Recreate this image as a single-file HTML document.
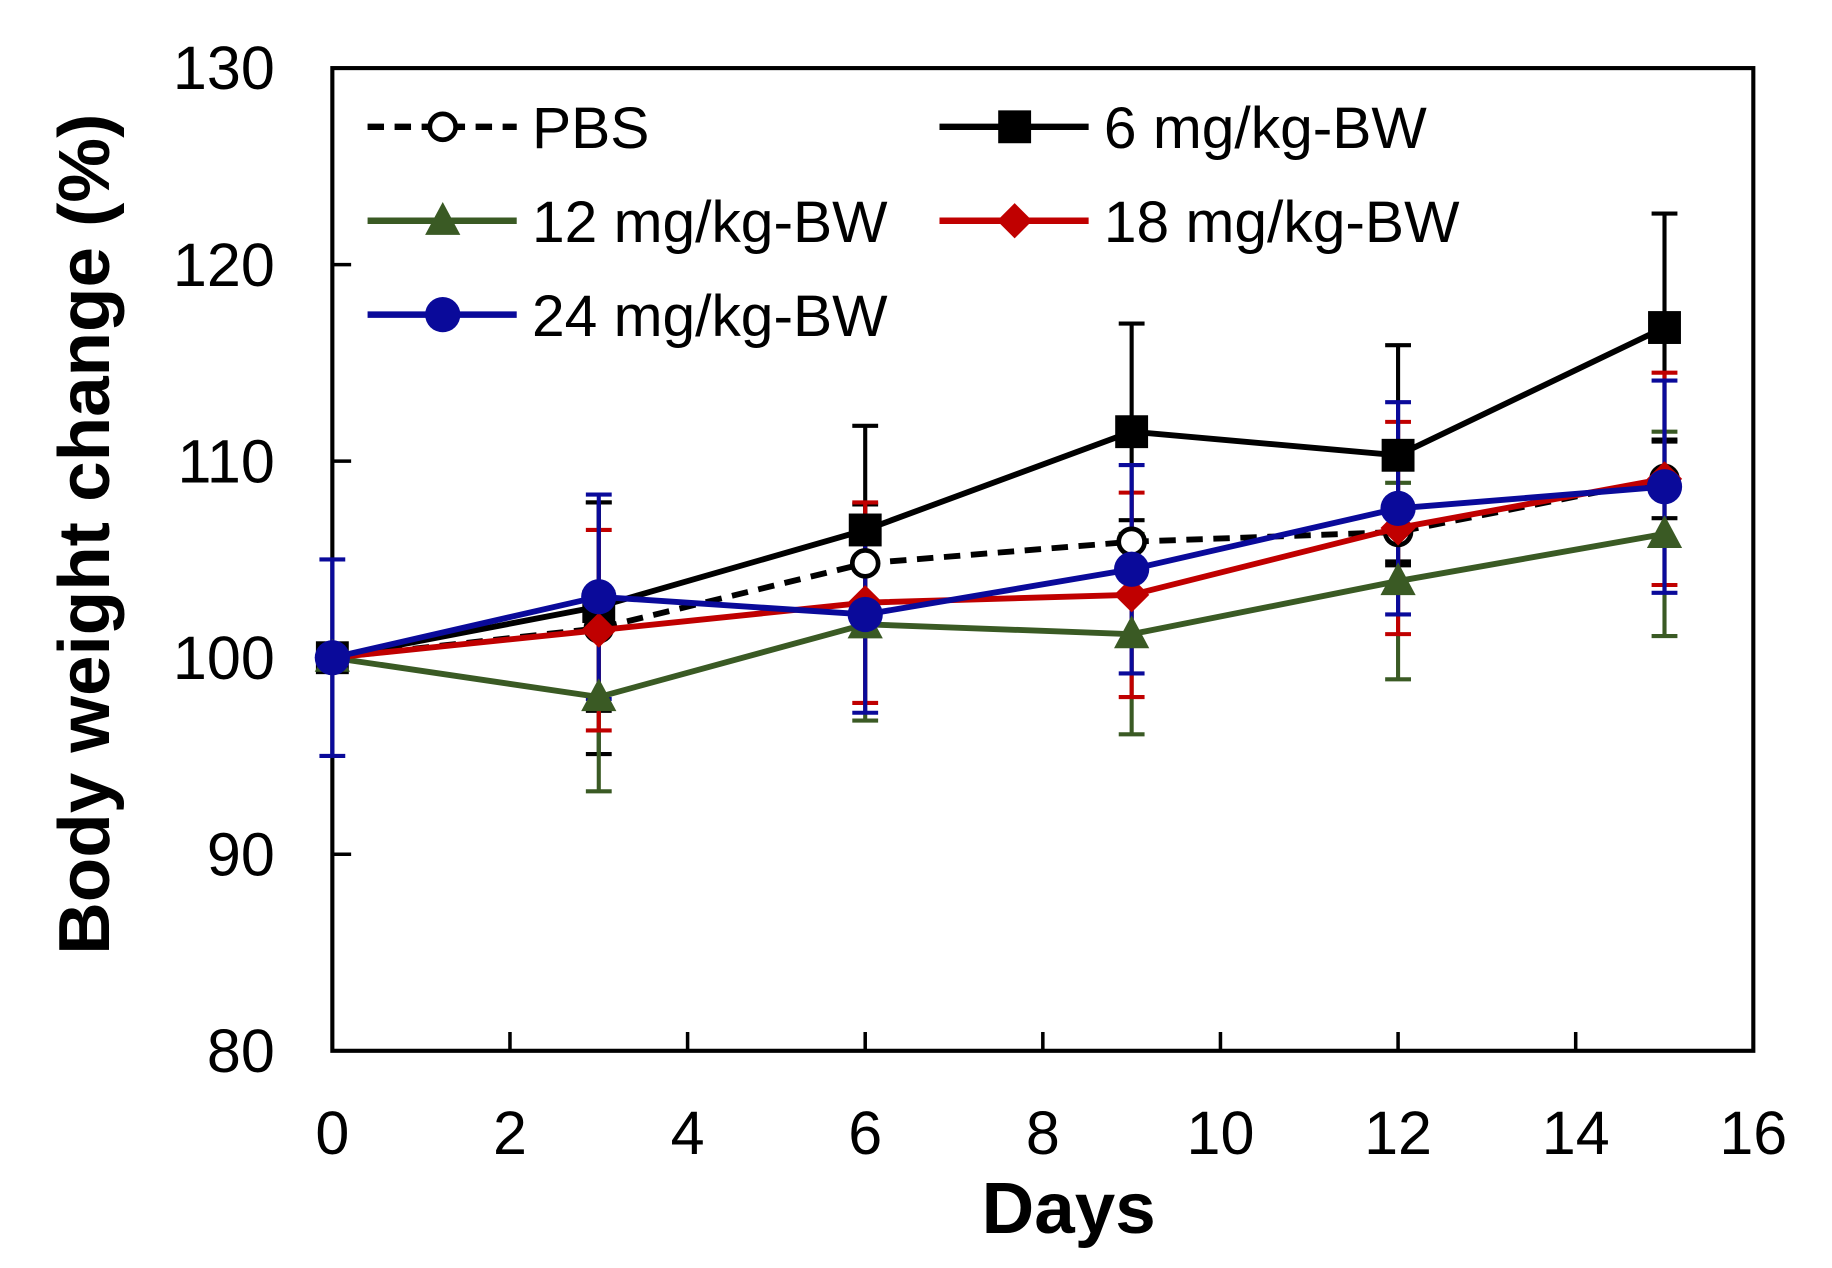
<!DOCTYPE html>
<html><head><meta charset="utf-8"><style>
html,body{margin:0;padding:0;background:#fff}
svg{display:block}
text{font-family:"Liberation Sans",Arial,sans-serif}
</style></head><body>
<svg id="chart" width="1832" height="1268" viewBox="0 0 1560 1080" preserveAspectRatio="none" xmlns="http://www.w3.org/2000/svg"></svg>
<script>
const days=[0,3,6,9,12,15];
const pbsVals=[100,101.5,104.8,105.9,106.4,109.1];
const pbsErr=[0,6.4,3,1.1,1.5,2];
const mg6Vals=[100,102.6,106.5,111.5,110.3,116.8];
const mg6Err=[0,5.3,5.3,5.5,5.6,5.8];
const mg12Vals=[100,98,101.7,101.2,103.9,106.3];
const mg12Err=[0,4.8,4.9,5.1,5,5.2];
const mg18Vals=[100,101.4,102.8,103.2,106.6,109.1];
const mg18Err=[0,5.1,5.1,5.2,5.4,5.4];
const mg24Vals=[100,103.1,102.2,104.5,107.6,108.7];
const mg24Err=[5,5.2,5,5.3,5.4,5.4];
const xTicks=[0,2,4,6,8,10,12,14,16];
const yTicks=[80,90,100,110,120,130];

const L=283,R=1493,T=58,B=895;
const xs=d=>L+(d-0)/16*(R-L);
const ys=v=>B-(v-80)/50*(B-T);
const NS="http://www.w3.org/2000/svg";
const svg=document.getElementById('chart');
function mk(tag,attrs,parent){const e=document.createElementNS(NS,tag);for(const k in attrs)e.setAttribute(k,attrs[k]);(parent||svg).appendChild(e);return e;}

const frame=mk('rect',{x:L,y:T,width:R-L,height:B-T,fill:'none',stroke:'#000','stroke-width':3.5});



xTicks.forEach(t=>{
  const x=xs(t);
  if(t>0&&t<16){const tk=mk('line',{x1:x,x2:x,y1:B,y2:B-16,stroke:'#000','stroke-width':3});
  
  }
  const lb=mk('text',{x:x,y:B+88,'text-anchor':'middle','font-size':52});
  lb.textContent=t;
  
  
});
yTicks.forEach(t=>{
  const y=ys(t);
  if(t>80&&t<130){const tk=mk('line',{x1:L,x2:L+16,y1:y,y2:y,stroke:'#000','stroke-width':3});
  
  }
  const lb=mk('text',{x:234,y:y+18,'text-anchor':'end','font-size':52});
  lb.textContent=t;
  
  
});
const xt=mk('text',{x:910,y:1050,'text-anchor':'middle','font-size':62,'font-weight':'bold'});
xt.textContent='Days';


const yt=mk('text',{x:0,y:0,'text-anchor':'middle','font-size':62,'font-weight':'bold',transform:'translate(93,455) rotate(-90)'});
yt.textContent='Body weight change (%)';



function marker(g,shape,x,y,color,name){
  let m;
  if(shape==='circleOpen')m=mk('circle',{cx:x,cy:y,r:11,fill:'#fff',stroke:color,'stroke-width':4},g);
  else if(shape==='square')m=mk('rect',{x:x-14,y:y-14,width:28,height:28,fill:color},g);
  else if(shape==='triangle')m=mk('polygon',{points:`${x},${y-16} ${x+15},${y+12} ${x-15},${y+12}`,fill:color},g);
  else if(shape==='diamond')m=mk('polygon',{points:`${x},${y-15} ${x+15},${y} ${x},${y+15} ${x-15},${y}`,fill:color},g);
  else m=mk('circle',{cx:x,cy:y,r:15,fill:color},g);
  
  
}
const series=[
 {name:'pbs',label:'PBS',vals:pbsVals,err:pbsErr,color:'#000',shape:'circleOpen',dash:'14,9',lx:313,ly:108},
 {name:'6mg',label:'6 mg/kg-BW',vals:mg6Vals,err:mg6Err,color:'#000',shape:'square',dash:'',lx:800,ly:108},
 {name:'12mg',label:'12 mg/kg-BW',vals:mg12Vals,err:mg12Err,color:'#3a5a24',shape:'triangle',dash:'',lx:313,ly:188},
 {name:'18mg',label:'18 mg/kg-BW',vals:mg18Vals,err:mg18Err,color:'#c00000',shape:'diamond',dash:'',lx:800,ly:188},
 {name:'24mg',label:'24 mg/kg-BW',vals:mg24Vals,err:mg24Err,color:'#0a0a9a',shape:'circle',dash:'',lx:313,ly:268}
];
series.forEach(s=>{
  const g=mk('g',{});
  
  
  days.forEach((d,i)=>{
    if(!s.err[i])return;
    const x=xs(d),y1=ys(s.vals[i]-s.err[i]),y2=ys(s.vals[i]+s.err[i]);
    mk('line',{x1:x,x2:x,y1:y1,y2:y2,stroke:s.color,'stroke-width':3.5},g);
    mk('line',{x1:x-11,x2:x+11,y1:y1,y2:y1,stroke:s.color,'stroke-width':3.5},g);
    mk('line',{x1:x-11,x2:x+11,y1:y2,y2:y2,stroke:s.color,'stroke-width':3.5},g);
  });
});
series.forEach(s=>{
  const g=mk('g',{});
  
  
  const pts=days.map((d,i)=>xs(d)+','+ys(s.vals[i])).join(' ');
  const pl=mk('polyline',{points:pts,fill:'none',stroke:s.color,'stroke-width':5,'stroke-dasharray':s.dash},g);
  
  
  days.forEach((d,i)=>marker(g,s.shape,xs(d),ys(s.vals[i]),s.color,s.name+'-point'));
  const lg=mk('g',{});
  
  
  mk('line',{x1:s.lx,x2:s.lx+127,y1:s.ly,y2:s.ly,stroke:s.color,'stroke-width':5.5,'stroke-dasharray':s.dash},lg);
  marker(lg,s.shape,s.lx+64,s.ly,s.color,'legend-marker');
  const t=mk('text',{x:s.lx+140,y:s.ly+18,'font-size':50},lg);
  t.textContent=s.label;
  
  
});
</script>
</body></html>
